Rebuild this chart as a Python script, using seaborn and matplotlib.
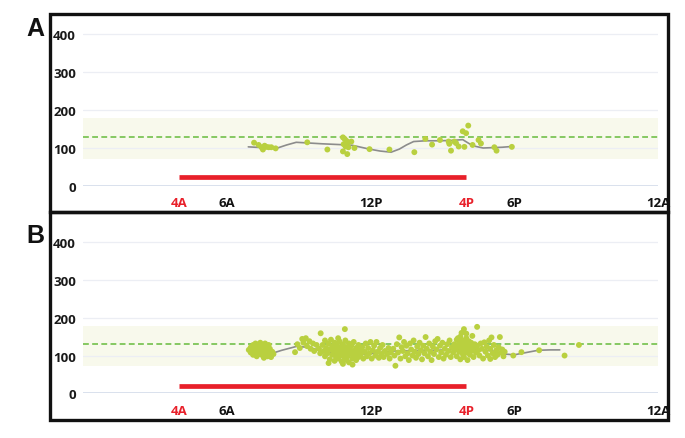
import numpy as np
import pandas as pd
import matplotlib
matplotlib.use("Agg")
import matplotlib.pyplot as plt
from matplotlib.patches import Rectangle
import seaborn as sns

# ---------------- data ----------------
tick_hours = list(range(0, 25))
label_hours = [4, 6, 12, 16, 18, 24]
label_texts = ["4A", "6A", "12P", "4P", "6P", "12A"]
label_colors = ["#e8202a", "#111111", "#111111", "#e8202a", "#111111", "#111111"]
y_ticks = [0, 100, 200, 300, 400]

target_low, target_high = 72, 178
mean_level = 130
red_bar_hours = [4, 16]
red_bar_level_a = 24
red_bar_level_b = 20

# Panel A readings
hours_a = [7.14, 7.33, 7.45, 7.51, 7.58, 7.65, 7.75, 7.86, 8.04, 9.36, 10.2,
           10.85, 10.92, 10.99, 10.88, 11.05, 10.96, 11.08, 11.2, 10.85, 11.03, 11.33,
           11.96, 12.79, 13.83, 14.29, 14.57, 14.9, 15.26, 15.29, 15.36, 15.5, 15.57,
           15.68, 15.92, 15.85, 15.99, 16.08, 16.26, 16.51, 16.61, 17.17, 17.26, 17.9]
values_a = [114, 108, 102, 96, 106, 103, 102, 102, 99, 115, 96,
            128, 124, 119, 110, 115, 104, 102, 117, 91, 84, 100,
            97, 96, 89, 124, 109, 121, 117, 111, 93, 117, 113,
            104, 103, 144, 139, 159, 108, 121, 112, 102, 93, 103]

trend_hours_a = [6.9, 7.5, 8.07, 8.5, 8.9, 9.46, 10.0, 10.7, 11.25, 11.96, 12.4, 12.86,
                 13.2, 13.5, 13.8, 14.3, 14.9, 15.4, 15.85, 16.26, 16.7, 17.1, 17.5, 17.9]
trend_values_a = [103, 101, 99, 108, 115, 113, 111, 109, 107, 97, 92, 89,
                  97, 108, 117, 119, 119, 120, 122, 106, 100, 101, 102, 104]

# Panel B readings
hours_b = [
    # early morning blob
    6.92, 7.0, 7.0, 7.05, 7.1, 7.1, 7.15, 7.2, 7.2, 7.25, 7.3, 7.3, 7.35, 7.4, 7.4, 7.45,
    7.5, 7.5, 7.55, 7.6, 7.6, 7.65, 7.7, 7.7, 7.75, 7.8, 7.8, 7.85, 7.9, 7.95, 7.55, 7.35,
    7.25, 7.65, 7.45,
    # mid-morning
    8.85, 8.95, 9.05, 9.15, 9.2, 9.3, 9.35, 9.45, 9.5, 9.6, 9.65, 9.75, 9.85, 9.92, 9.9,
    # late morning dense
    10.0, 10.05, 10.1, 10.1, 10.15, 10.2, 10.25, 10.3, 10.3, 10.35, 10.4, 10.4, 10.45, 10.5,
    10.5, 10.55, 10.55, 10.6, 10.6, 10.65, 10.7, 10.7, 10.75, 10.75, 10.8, 10.8, 10.85, 10.85,
    10.9, 10.9, 10.93, 10.95, 10.95, 11.0, 11.0, 11.05, 11.05, 11.1, 11.1, 11.15, 11.2, 11.2,
    11.25, 11.3, 11.3, 11.35, 11.4, 11.4, 11.45, 11.5, 11.5, 11.55, 11.6, 11.65, 11.7, 10.65,
    10.25, 11.25,
    # noon
    11.75, 11.8, 11.85, 11.9, 11.95, 12.0, 12.05, 12.1, 12.15, 12.2, 12.25, 12.3, 12.35, 12.4,
    12.45, 12.5, 12.55, 12.6, 12.7, 12.75, 12.8, 12.85,
    # afternoon
    12.95, 13.0, 13.04, 13.1, 13.15, 13.2, 13.25, 13.3, 13.35, 13.4, 13.45, 13.5, 13.55, 13.6,
    13.65, 13.7, 13.75, 13.8, 13.85, 13.9, 13.95, 14.0, 14.05, 14.1, 14.15, 14.2, 14.25, 14.3,
    14.35, 14.4, 14.45, 14.5, 14.55, 14.6, 14.65, 14.7, 14.75, 14.8, 14.85, 14.9, 14.95, 15.0,
    15.05, 15.1, 15.15, 15.2, 15.25, 15.3, 15.35, 15.4,
    # around 4P dense
    15.45, 15.5, 15.55, 15.6, 15.6, 15.65, 15.7, 15.7, 15.75, 15.75, 15.8, 15.8, 15.85, 15.85,
    15.9, 15.9, 15.9, 15.95, 15.95, 16.0, 16.0, 16.05, 16.05, 16.1, 16.1, 16.15, 16.15, 16.2,
    16.2, 16.25, 16.3, 16.3, 16.35, 16.4, 16.45, 16.45, 16.5, 15.65, 16.0, 15.8,
    # late afternoon
    16.55, 16.6, 16.65, 16.7, 16.75, 16.8, 16.85, 16.9, 16.95, 17.0, 17.0, 17.05, 17.1, 17.15,
    17.2, 17.25, 17.3, 17.35, 17.4, 17.45, 17.5, 17.55, 17.6,
    # evening tail
    17.96, 18.3, 19.04, 20.1, 20.7]
values_b = [
    115, 108, 122, 114, 102, 128, 118, 110, 132, 98, 124, 114, 104, 134, 120, 110,
    100, 128, 116, 106, 132, 122, 98, 112, 128, 104, 118, 96, 110, 104, 94, 130,
    106, 113, 125,
    109, 130, 120, 144, 134, 146, 125, 138, 118, 132, 112, 128, 118, 159, 106,
    128, 112, 140, 98, 120, 106, 132, 90, 116, 142, 102, 124, 112, 86,
    134, 98, 118, 108, 128, 92, 138, 114, 100, 122, 84, 108, 78, 130,
    96, 116, 170, 104, 140, 88, 122, 110, 98, 132, 82, 116, 104, 126,
    92, 112, 136, 100, 120, 88, 108, 128, 96, 114, 104, 122, 92, 146,
    80, 76,
    110, 132, 98, 120, 106, 136, 92, 114, 126, 100, 136, 110, 94, 120,
    104, 128, 96, 112, 104, 120, 92, 108,
    118, 100, 73, 130, 108, 148, 92, 122, 112, 136, 98, 126, 106, 88,
    132, 116, 100, 140, 110, 94, 124, 104, 134, 114, 90, 126, 106, 149,
    118, 98, 132, 110, 88, 124, 104, 138, 116, 144, 96, 126, 108, 134,
    92, 118, 102, 130, 112, 140, 96, 122,
    108, 130, 116, 142, 98, 124, 110, 136, 90, 150, 118, 128, 104, 140,
    170, 114, 96, 132, 122, 108, 146, 128, 88, 116, 138, 102, 124, 134,
    112, 152, 120, 96, 130, 108, 176, 126, 114, 146, 158, 160,
    100, 132, 118, 92, 135, 110, 124, 100, 140, 91, 118, 148, 106, 128,
    96, 114, 102, 122, 149, 108, 116, 98, 110,
    100, 109, 114, 100, 128]

trend_hours_b = [7.0, 7.5, 7.9, 8.3, 8.9, 9.4, 10.0, 10.6, 11.2, 11.8, 12.4, 13.0, 13.6,
                 14.2, 14.8, 15.4, 16.0, 16.6, 17.1, 17.6, 18.0, 18.5, 19.0, 19.5, 19.9]
trend_values_b = [112, 110, 106, 114, 124, 122, 112, 106, 104, 104, 108, 112, 113,
                  114, 114, 116, 118, 116, 112, 104, 102, 108, 114, 115, 115]

df_a = pd.DataFrame({"hour": hours_a, "value": values_a})
df_b = pd.DataFrame({"hour": hours_b, "value": values_b})
tr_a = pd.DataFrame({"hour": trend_hours_a, "value": trend_values_a})
tr_b = pd.DataFrame({"hour": trend_hours_b, "value": trend_values_b})

# ---------------- style ----------------
sns.set_theme(style="white")
plt.rcParams["font.family"] = ["Open Sans", "DejaVu Sans"]

W, H = 685, 439
fig = plt.figure(figsize=(W / 100, H / 100), dpi=100)

POINT = "#b9d03f"
TREND = "#8c8c8c"
AXIS_C = "#d3dbea"
GRID_C = "#eceef4"


def px_axes(x0, x1, y_base, px_per_unit, ymax=440):
    top = y_base - ymax * px_per_unit
    return fig.add_axes([x0 / W, (H - y_base) / H, (x1 - x0) / W, (y_base - top) / H])


def style_panel(ax, df, tr, red_level):
    ax.set_xlim(0, 24)
    ax.set_ylim(0, 440)
    ax.axhspan(target_low, target_high, color="#f8f9ec", zorder=0, lw=0)
    for yv in y_ticks[1:]:
        ax.axhline(yv, color=GRID_C, lw=0.9, zorder=1)
    ax.axhline(0, color=AXIS_C, lw=1.2, zorder=1)
    ax.axhline(mean_level, color="#72c04a", lw=1.2, ls=(0, (3.5, 2)), zorder=2)
    sns.lineplot(data=tr, x="hour", y="value", ax=ax, color=TREND, lw=1.2,
                 zorder=3, sort=False, legend=False)
    sns.scatterplot(data=df, x="hour", y="value", ax=ax, color=POINT, s=18,
                    edgecolor="none", zorder=4, legend=False)
    ax.plot(red_bar_hours, [red_level, red_level], color="#e8202a", lw=3.4,
            solid_capstyle="butt", zorder=5)
    for sp in ax.spines.values():
        sp.set_visible(False)
    ax.set_xlabel("")
    ax.set_ylabel("")
    ax.set_yticks(y_ticks)
    ax.set_yticklabels([str(v) for v in y_ticks], fontweight="bold", fontsize=9.5,
                       color="#1a1a1a")
    ax.tick_params(axis="y", length=0, pad=5)
    ax.set_xticks(tick_hours)
    labs = []
    for h in tick_hours:
        labs.append(label_texts[label_hours.index(h)] if h in label_hours else "")
    ax.set_xticklabels(labs, fontweight="bold", fontsize=9.5)
    for lab, h in zip(ax.get_xticklabels(), tick_hours):
        if h in label_hours:
            lab.set_color(label_colors[label_hours.index(h)])
    ax.tick_params(axis="x", length=4.5, width=0.8, color=AXIS_C, direction="out", pad=3)
    ax.patch.set_alpha(0)


ax_a = px_axes(83, 658, 187, 0.38)
style_panel(ax_a, df_a, tr_a, red_bar_level_a)
ax_b = px_axes(83, 658, 394.3, 0.3775)
style_panel(ax_b, df_b, tr_b, red_bar_level_b)

# panel frames
def frame(x0, y0, x1, y1):
    fig.add_artist(Rectangle((x0 / W, 1 - y1 / H), (x1 - x0) / W, (y1 - y0) / H,
                             transform=fig.transFigure, fill=False, ec="#111111",
                             lw=2.4, zorder=10))

frame(49.5, 14.5, 667.5, 213)
frame(49.5, 213, 667.5, 420.5)

fig.text(35 / W, 1 - 29 / H, "A", fontsize=18, fontweight="bold", ha="center",
         va="center", family=["Liberation Sans", "DejaVu Sans"], color="#111111")
fig.text(35 / W, 1 - 236 / H, "B", fontsize=18, fontweight="bold", ha="center",
         va="center", family=["Liberation Sans", "DejaVu Sans"], color="#111111")

fig.savefig("out.png", dpi=100, facecolor="white")
